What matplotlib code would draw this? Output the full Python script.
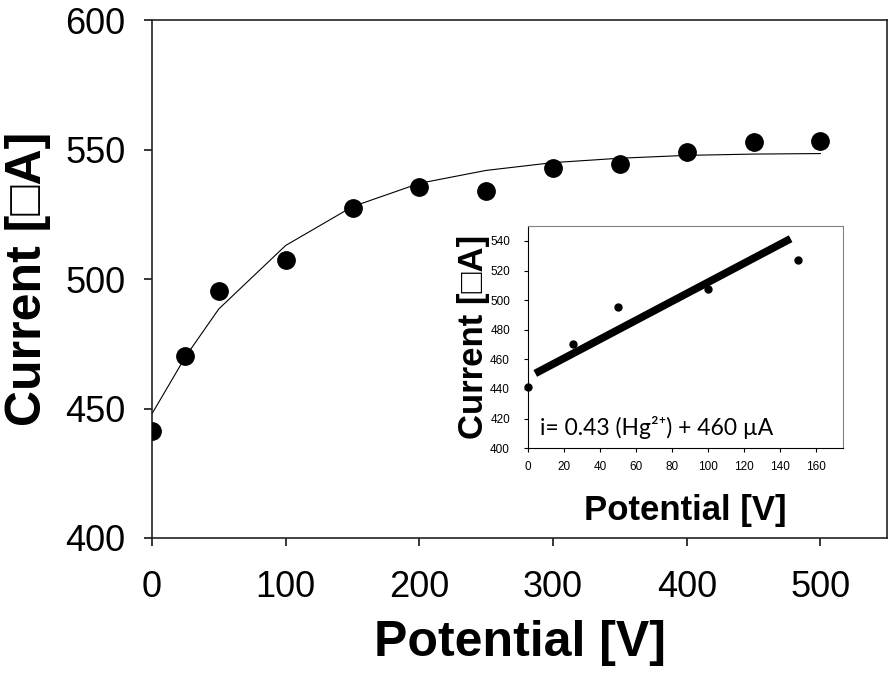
import matplotlib.pyplot as plt

plt.rcParams['font.family'] = ['Liberation Sans', 'DejaVu Sans']

# main data
potential = [0, 25, 50, 100, 150, 200, 250, 300, 350, 400, 450, 500]
current = [441.3, 470.4, 495.4, 507.3, 527.3, 535.5, 534.2, 543.0, 544.3, 549.2, 552.9, 553.5]
fit_curve = [448, 470, 488.5, 513, 528, 537, 542, 545, 546.7, 547.8, 548.3, 548.5]

# inset data (linear part)
pot_lin = [0, 25, 50, 100, 150]
cur_lin = [441.3, 470.4, 495.4, 507.3, 527.3]
reg_x = [4, 146]
reg_y = [450.5, 541.5]

ylabel = 'Current [\u25a1A]'
xlabel = 'Potential [V]'

fig = plt.figure(figsize=(8.89, 6.75), dpi=100)
ax = fig.add_axes([0.171, 0.203, 0.827, 0.767])

ax.plot(potential, fit_curve, color='black', lw=0.8, zorder=2)
ax.plot(potential, current, 'o', color='black', ms=12.5, zorder=3)
ax.set_xlim(0, 550)
ax.set_ylim(400, 600)
ax.set_xticks([0, 100, 200, 300, 400, 500])
ax.set_yticks([400, 450, 500, 550, 600])
ax.tick_params(direction='out', length=6, width=1.1, labelsize=26, pad=13)
ax.tick_params(axis='x', pad=17)
for s in ax.spines.values():
    s.set_linewidth(1.2)
    s.set_color('#222222')
ax.set_xlabel(xlabel, fontsize=36, fontweight='bold', labelpad=11)
ax.set_ylabel(ylabel, fontsize=36, fontweight='bold', labelpad=10)

# inset
ins = fig.add_axes([0.594, 0.336, 0.354, 0.329])
ins.plot(reg_x, reg_y, color='black', lw=5.5, solid_capstyle='butt', zorder=2)
ins.plot(pot_lin, cur_lin, 'o', color='black', ms=5, zorder=3, clip_on=False)
ins.set_xlim(0, 175)
ins.set_ylim(400, 550)
ins.set_xticks(range(0, 161, 20))
ins.set_yticks(range(400, 541, 20))
ins.tick_params(direction='out', length=3, width=0.8, labelsize=8.5)
ins.tick_params(axis='y', pad=10)
ins.tick_params(axis='x', pad=6)
ins.spines['top'].set_color('#808080')
ins.spines['right'].set_color('#808080')
ins.set_xlabel(xlabel, fontsize=25, fontweight='bold', labelpad=15)
ins.set_ylabel(ylabel, fontsize=25, fontweight='bold', labelpad=0)
ins.text(6.5, 409, 'i= 0.43 (Hg\u00b2\u207a) + 460 µA', fontsize=16.5,
         family=['Lato', 'DejaVu Sans'])

fig.savefig('out.png', dpi=100)
